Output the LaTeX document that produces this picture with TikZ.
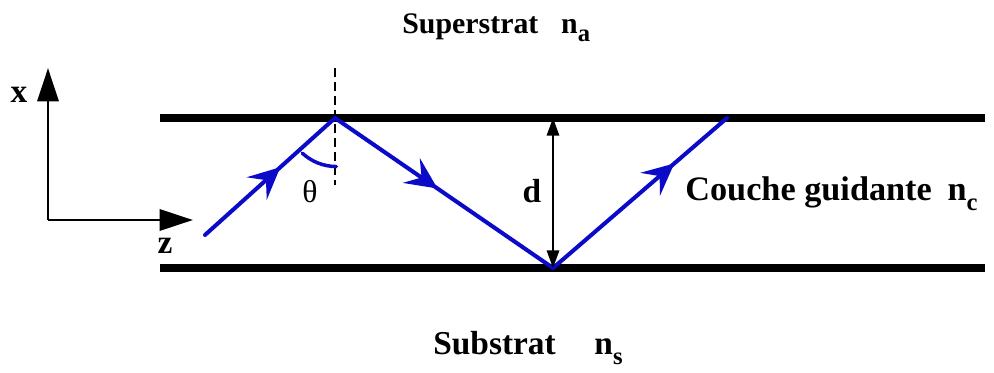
\documentclass[tikz,border=0pt]{standalone}
\usepackage{fontspec}
\setmainfont{Liberation Serif}
\usetikzlibrary{arrows.meta, decorations.markings}
\definecolor{rayblue}{RGB}{10, 10, 200}
\newcommand{\lowidx}[1]{\raisebox{-0.3em}{\fontsize{14}{16}\selectfont #1}}

\begin{document}
\begin{tikzpicture}[
      x=0.02cm, y=-0.02cm,
      font=\fontsize{17}{20}\selectfont,
      layer/.style={line width=4.6pt, draw=black},
      axis/.style={-{Triangle[length=19pt, width=12pt]}, line width=1.7pt},
      ray/.style={line width=2.3pt, draw=rayblue, line cap=round},
      midarrow/.style={postaction={decorate, decoration={markings,
          mark=at position #1 with {\arrow{Stealth[length=18pt, width=17pt, inset=7pt, rayblue]}}}}},
      label/.style={inner sep=0pt, font=\fontsize{19}{22}\selectfont\bfseries}
  ]
  \useasboundingbox (0,0) rectangle (994,372);

  % Nodes
  \coordinate (topL) at (160,118);
  \coordinate (topR) at (985,118);
  \coordinate (botL) at (160,268);
  \coordinate (botR) at (985,268);
  \coordinate (start) at (205,235);
  \coordinate (hitA) at (335,118);
  \coordinate (hitB) at (553,268);
  \coordinate (hitC) at (727,118);
  \coordinate (origin) at (48,220);
  \coordinate (xtip) at (48,68);
  \coordinate (ztip) at (193,220);
  \coordinate (normTop) at (335,68);
  \coordinate (normBot) at (335,185);
  \coordinate (dTop) at (553,118);

  \node[label, font=\fontsize{17}{20}\selectfont\bfseries, anchor=base west] (supra) at (402,33) {Superstrat\hspace{13pt}n\lowidx{a}};
  \node[label, anchor=base west] (sub) at (433,354) {Substrat\hspace{22pt}n\lowidx{s}};
  \node[label, font=\fontsize{19.5}{22}\selectfont\bfseries, anchor=base west] (core) at (685,200) {Couche guidante\hspace{9pt}n\lowidx{c}};
  \node[label] (xlab) at (19,95) {x};
  \node[label] (zlab) at (165,246) {z};
  \node[label] (dlab) at (532,191) {d};
  \node[inner sep=0pt, font=\fontsize{18}{20}\selectfont] (theta) at (310,192) {θ};

  % Layers
  \draw[layer] (topL) -- (topR);
  \draw[layer] (botL) -- (botR);

  % Axes
  \draw[axis] (origin) -- (xtip);
  \draw[axis] (origin) -- (ztip);

  % Normal and angle
  \draw[line width=1.1pt, dash pattern=on 5pt off 3pt] (normTop) -- (normBot);
  \draw[ray, line width=2pt] ([shift={(133:48)}]hitA) arc[start angle=133, end angle=90, radius=50];

  % Arrows
  \draw[ray, midarrow=0.58] (start) -- (hitA);
  \draw[ray, midarrow=0.47] (hitA) -- (hitB);
  \draw[ray, midarrow=0.70] (hitB) -- (hitC);
  \draw[{Triangle[length=10pt, width=7pt]}-{Triangle[length=10pt, width=7pt]}, line width=1.2pt] (dTop) -- (hitB);

\end{tikzpicture}
\end{document}
